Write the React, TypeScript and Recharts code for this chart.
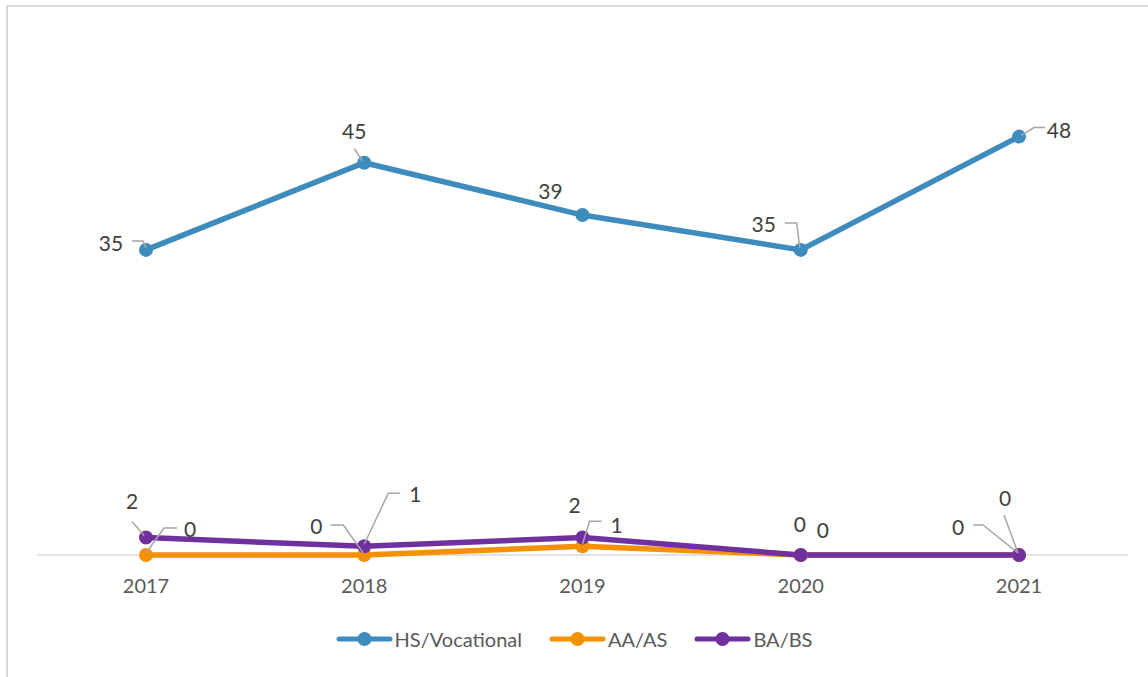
import { CartesianGrid, LabelList, Legend, Line, LineChart, XAxis, YAxis } from "recharts";

const years = ["2017", "2018", "2019", "2020", "2021"];
const hsVocational = [35, 45, 39, 35, 48];
const aaAs = [0, 0, 1, 0, 0];
const baBs = [2, 1, 2, 0, 0];
const seriesNames = ["HS/Vocational", "AA/AS", "BA/BS"];

const rows = years.map((year, i) => ({
  year,
  hs: hsVocational[i],
  aa: aaAs[i],
  ba: baBs[i],
}));

const BLUE = "#3E8BBE";
const ORANGE = "#F59100";
const PURPLE = "#7030A0";
const FONT = "Lato, 'Open Sans', sans-serif";

type Place = { dx: number; dy: number; lead?: number[][] };

// label placement relative to the point, plus leader-line vertices (Excel-style callouts)
const hsPlaces: Place[] = [
  { dx: -35, dy: -7, lead: [[-14, -9], [-3, -9], [0, -2]] },
  { dx: -10, dy: -32, lead: [[-10, -14], [-2, -2]] },
  { dx: -32, dy: -25 },
  { dx: -37, dy: -26, lead: [[-16, -27], [-4, -27], [-1, -2]] },
  { dx: 40, dy: -7, lead: [[26, -9], [15, -9], [2, -1]] },
];
const aaPlaces: Place[] = [
  { dx: 44, dy: -27, lead: [[31, -27], [18, -27], [0, -2]] },
  { dx: -48, dy: -30, lead: [[-34, -30], [-21, -30], [-1, -2]] },
  { dx: 34, dy: -22, lead: [[19, -25], [7, -25], [0, -2]] },
  { dx: 22, dy: -26 },
  { dx: -61, dy: -29, lead: [[-46, -30], [-36, -30], [-1, -2]] },
];
const baPlaces: Place[] = [
  { dx: -14, dy: -37, lead: [[-14, -16], [-2, -2]] },
  { dx: 51, dy: -53, lead: [[36, -53], [24, -53], [0, -2]] },
  { dx: -8, dy: -33 },
  { dx: -1, dy: -32 },
  { dx: -14, dy: -58, lead: [[-15, -40], [-1, -2]] },
];

function makeLabel(places: Place[]) {
  return (props: any) => {
    const { x, y, value, index } = props;
    const p = places[index];
    if (!p) return null;
    return (
      <g>
        {p.lead && (
          <polyline
            points={p.lead.map(([a, b]) => `${x + a},${y + b}`).join(" ")}
            fill="none"
            stroke="#A6A6A6"
            strokeWidth={1.5}
          />
        )}
        <text
          x={x + p.dx}
          y={y + p.dy}
          textAnchor="middle"
          dominantBaseline="central"
          fontSize={21}
          fontFamily={FONT}
          fill="#404040"
        >
          {value}
        </text>
      </g>
    );
  };
}

function LegendContent({ payload }: any) {
  const items = [...(payload || [])].sort(
    (a: any, b: any) => seriesNames.indexOf(a.value) - seriesNames.indexOf(b.value)
  );
  return (
    <div style={{ display: "flex", justifyContent: "center", gap: 27, fontFamily: FONT }}>
      {items.map((item: any) => (
        <div key={item.value} style={{ display: "flex", alignItems: "center" }}>
          <svg width={57} height={16} style={{ marginRight: 2 }}>
            <line x1={3} y1={8} x2={54} y2={8} stroke={item.color} strokeWidth={5} strokeLinecap="round" />
            <circle cx={28.5} cy={8} r={7} fill={item.color} />
          </svg>
          <span style={{ fontSize: 20, color: "#595959" }}>{item.value}</span>
        </div>
      ))}
    </div>
  );
}

export default function App() {
  return (
    <div style={{ position: "absolute", top: 0, left: 0, width: 1148, height: 677, background: "#fff" }}>
      <div
        style={{
          position: "absolute",
          left: 6,
          top: 5,
          width: 1142,
          height: 672,
          borderTop: "2px solid #D9D9D9",
          borderLeft: "2px solid #D9D9D9",
        }}
      />
      <LineChart
        width={1148}
        height={677}
        data={rows}
        margin={{ top: 32, right: 20, left: 37, bottom: 0 }}
        style={{ position: "absolute", top: 0, left: 0 }}
      >
        <CartesianGrid
          vertical={false}
          stroke="#D9D9D9"
          strokeWidth={1.5}
          horizontalCoordinatesGenerator={({ offset }: any) => [offset.top + offset.height]}
        />
        <XAxis
          dataKey="year"
          height={122}
          padding={{ left: 109, right: 109 }}
          axisLine={false}
          tickLine={false}
          tickSize={0}
          tickMargin={24}
          tick={{ fontSize: 20, fill: "#595959", fontFamily: FONT }}
        />
        <YAxis hide domain={[0, 60]} />
        <Legend
          verticalAlign="middle"
          align="center"
          layout="horizontal"
          wrapperStyle={{ top: 627, left: 0, width: 1148 }}
          content={<LegendContent />}
        />
        <Line
          dataKey="hs"
          name="HS/Vocational"
          stroke={BLUE}
          strokeWidth={5.5}
          dot={{ r: 7, fill: BLUE, stroke: BLUE, strokeWidth: 0 }}
          isAnimationActive={false}
        >
          <LabelList dataKey="hs" content={makeLabel(hsPlaces)} />
        </Line>
        <Line
          dataKey="aa"
          name="AA/AS"
          stroke={ORANGE}
          strokeWidth={5.5}
          dot={{ r: 7, fill: ORANGE, stroke: ORANGE, strokeWidth: 0 }}
          isAnimationActive={false}
        >
          <LabelList dataKey="aa" content={makeLabel(aaPlaces)} />
        </Line>
        <Line
          dataKey="ba"
          name="BA/BS"
          stroke={PURPLE}
          strokeWidth={5.5}
          dot={{ r: 7, fill: PURPLE, stroke: PURPLE, strokeWidth: 0 }}
          isAnimationActive={false}
        >
          <LabelList dataKey="ba" content={makeLabel(baPlaces)} />
        </Line>
      </LineChart>
    </div>
  );
}
